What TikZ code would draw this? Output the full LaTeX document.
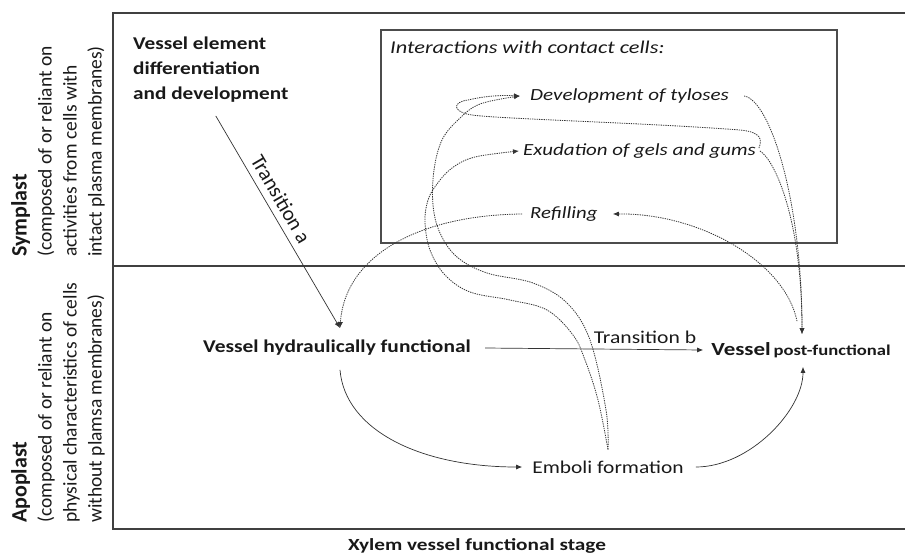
\documentclass[tikz,border=0pt]{standalone}
\usepackage{fontspec}
\usepackage{graphicx}
\setmainfont{Carlito}
\usetikzlibrary{arrows.meta,calc}
\newcommand{\hstr}[2]{\scalebox{#1}[1]{#2}}
\begin{document}
\begin{tikzpicture}[x=1pt,y=-1pt,
  txt/.style={inner sep=0pt, text=black!90},
  bigb/.style={txt, font=\fontsize{18}{25}\selectfont\bfseries},
  itl/.style={txt, font=\fontsize{17}{20}\selectfont\itshape},
  reg/.style={txt, font=\fontsize{18}{22}\selectfont},
  side/.style={txt, rotate=90, anchor=north west, align=left, font=\fontsize{19.5}{25}\selectfont},
  frame/.style={draw=black!75, line width=1.1pt},
  solidarr/.style={draw=black!80, line width=0.7pt, -{Latex[length=6pt,width=5pt]}},
  dotarr/.style={draw=black!80, line width=0.8pt, dash pattern=on 1.3pt off 1pt, -{Latex[length=6pt,width=5pt]}},
]
\useasboundingbox (0,0) rectangle (905,557);
% frame
\draw[frame] (905,13) -- (113,13) -- (113,529) -- (905,529);
\draw[frame] (113,266) -- (905,266);
\draw[draw=black!70, line width=1.3pt] (381,30) rectangle (837,243);

% side labels
\node[side] (sym) at (11,257) {{\fontsize{22}{25}\selectfont\bfseries Symplast}\\(composed of or reliant on\\activities from cells with\\intact plasma membranes)};
\node[side] (apo) at (11,523) {{\fontsize{22}{25}\selectfont\bfseries Apoplast}\\(composed of or reliant on\\physical characteristics of cells\\without plamsa membranes)};

% nodes
\node[bigb, anchor=west, align=left] (ved) at (133,70) {\hstr{1.18}{Vessel element}\\\hstr{1.18}{differentiation}\\\hstr{1.18}{and development}};
\node[itl, anchor=west, font=\fontsize{18}{20}\selectfont\itshape] (intr) at (390,47) {\hstr{1.24}{Interactions with contact cells:}};
\node[itl, anchor=west] (tyl) at (530,96) {\hstr{1.24}{Development of tyloses}};
\node[itl, anchor=west] (exu) at (523,151) {\hstr{1.23}{Exudation of gels and gums}};
\node[itl, anchor=west] (ref) at (530,214) {\hstr{1.22}{Refilling}};
\node[bigb] (hyd) at (337,348) {\hstr{1.19}{Vessel hydraulically functional}};
\node[txt, font=\bfseries] (post) at (801,350) {\hstr{1.24}{{\fontsize{18.5}{22}\selectfont Vessel} {\fontsize{15}{18}\selectfont post-functional}}};
\node[reg] (emb) at (608,467) {\hstr{1.19}{Emboli formation}};
\node[bigb, font=\fontsize{17}{20}\selectfont\bfseries] (xyl) at (477,546) {\hstr{1.25}{Xylem vessel functional stage}};
\node[reg] (trb) at (645,337) {\hstr{1.2}{Transition b}};
\node[reg, rotate=-59.8, font=\fontsize{21}{24}\selectfont] (tra) at (281,199) {Transition a};

% anchor coordinates
\coordinate (vedout) at ($(ved.south)+(5,13)$);
\coordinate (hydin) at ($(hyd.north)+(3,-12)$);
\coordinate (hydout) at ($(hyd.south)+(3,14)$);
\coordinate (postin) at ($(post.north)+(1,-8)$);
\coordinate (postref) at ($(post.north)+(-4,-21)$);
\coordinate (postout) at ($(post.south)+(2,9)$);
\coordinate (embout) at ($(emb.north)+(0,-11)$);
\coordinate (tylin) at ($(tyl.west)+(-10,0)$);
\coordinate (exuin) at ($(exu.west)+(-4,0)$);

% solid connectors
\draw[solidarr] (vedout) -- (hydin);
\draw[solidarr] ($(hyd.east)+(14,0)$) -- ($(post.west)+(-8,0)$);
\draw[solidarr] (hydout) .. controls (345,430) and (420,467) .. ($(emb.west)+(-10,0)$);
\draw[solidarr] ($(emb.east)+(12,0)$) .. controls (750,467) and (803,410) .. (postout);

% dotted connectors
\draw[dotarr] ($(ref.west)+(-8,0)$) .. controls (420,215) and (345,255) .. (hydin);
\draw[dotarr] (postref) .. controls (785,262) and (700,213) .. ($(ref.east)+(15,0)$);
\draw[dotarr] ($(tyl.east)+(15,0)$) .. controls (770,100) and (802,200) .. (postin);
\draw[dotarr] ($(exu.east)+(4,0)$) .. controls (775,160) and (802,220) .. (postin);
\draw[dotarr] ($(exu.east)+(3,-3)$) .. controls (762,140) and (762,132) .. (740,130) .. controls (650,123) and (500,119) .. (472,115) .. controls (452,112) and (452,102) .. (468,100) .. controls (485,96) and (500,95) .. (tylin);
\draw[dotarr] plot[smooth, tension=0.6] coordinates {(embout) (606,410) (590,340) (567,303) (533,283) (487,273) (457,257) (440,233) (433,205) (434,170) (442,140) (458,120) (480,104) (tylin)};
\draw[dotarr] plot[smooth, tension=0.6] coordinates {(embout) (598,400) (585,360) (573,335) (547,310) (510,300) (470,292) (445,275) (430,250) (425,222) (428,200) (437,184) (452,168) (475,157) (exuin)};
\end{tikzpicture}
\end{document}
